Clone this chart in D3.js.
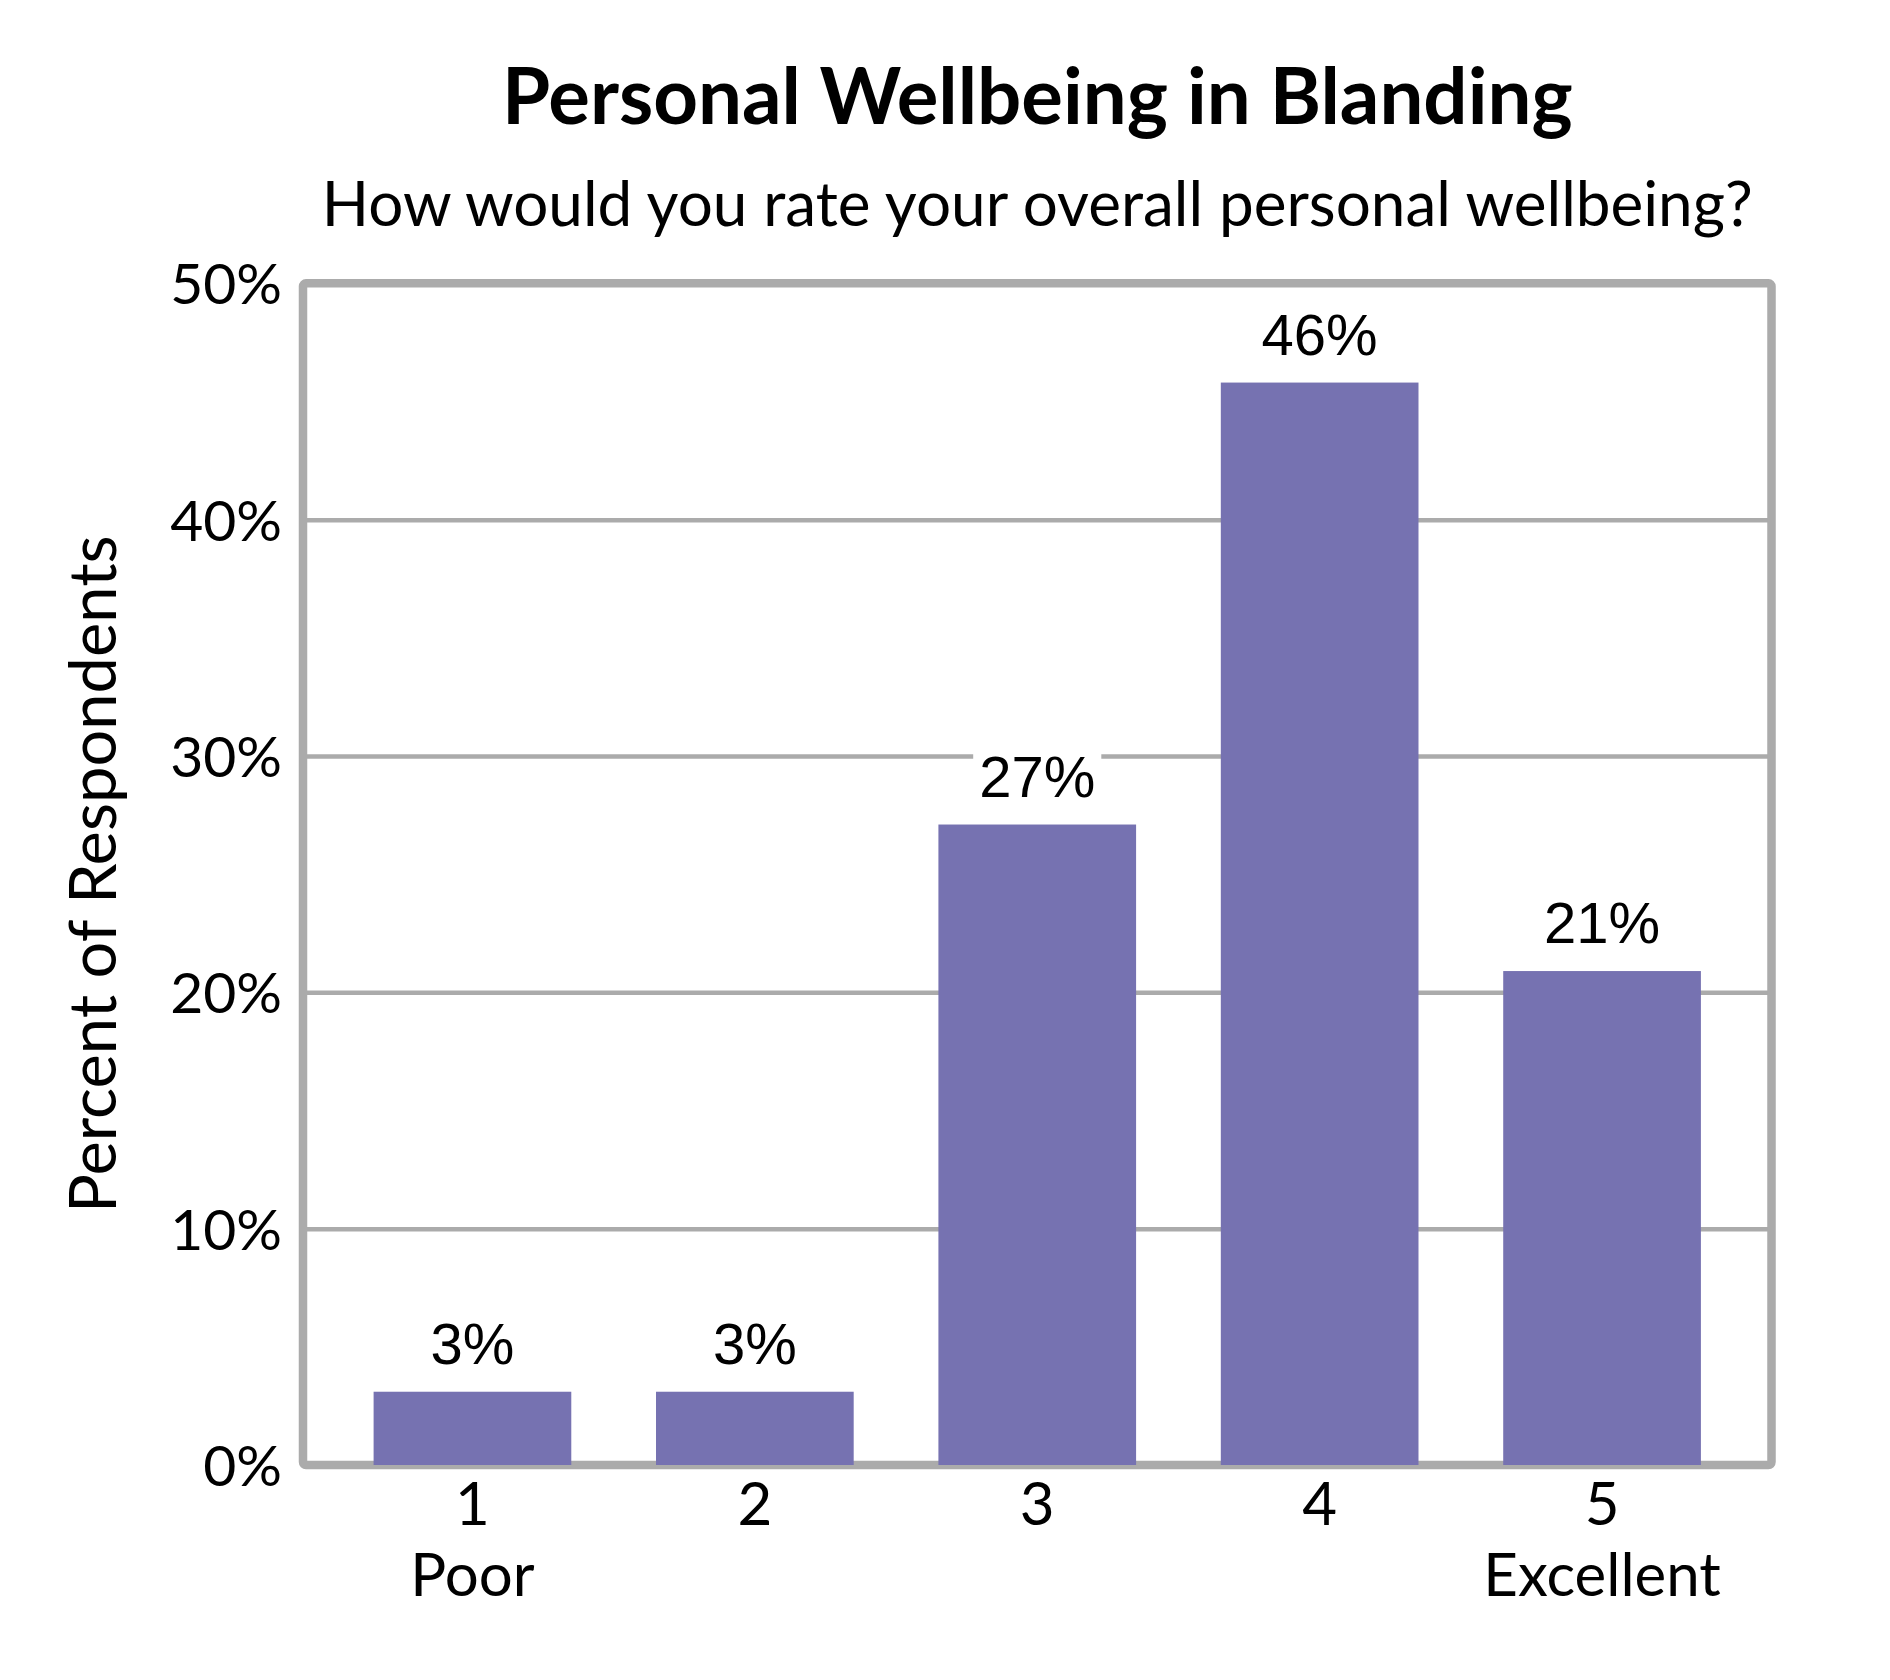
<!DOCTYPE html>
<html>
<head>
<meta charset="utf-8">
<script src="https://cdn.jsdelivr.net/npm/d3@7"></script>
<style>
    body { margin: 0; background: #ffffff; }
    svg { display: block; }
</style>
</head>
<body>
<div id="chart"></div>
<script>
// data
const categories = ["1", "2", "3", "4", "5"];
const subLabels = ["Poor", "", "", "", "Excellent"];
const percents = [3.1, 3.1, 27.1, 45.8, 20.9];
const yTicks = [0, 10, 20, 30, 40, 50];

const titleText = "Personal Wellbeing in Blanding";
const subtitleText = "How would you rate your overall personal wellbeing?";
const yTitleText = "Percent of Respondents";

const dataset = categories.map((c, i) => ({ cat: c, sub: subLabels[i], value: percents[i] }));

const xAccessor = d => d.cat;
const yAccessor = d => d.value;

function drawChart() {
    let dimensions = {
        width: 1890,
        height: 1680,
        margin: {
            left: 303,
            right: 118.5,
            top: 283.3,
            bottom: 215,
        },
    }
    dimensions.boundedWidth = dimensions.width
        - dimensions.margin.left
        - dimensions.margin.right;
    dimensions.boundedHeight = dimensions.height
        - dimensions.margin.top
        - dimensions.margin.bottom;

    const mainFont = "Lato, 'Open Sans', sans-serif";
    const labelFont = "'Liberation Sans', Arial, sans-serif";
    const gridColor = "#ababab";
    const barColor = "#7672b1";

    const wrapper = d3.select("#chart").append("svg")
        .attr("width", dimensions.width)
        .attr("height", dimensions.height);

    wrapper.append("rect")
        .attr("width", dimensions.width)
        .attr("height", dimensions.height)
        .attr("fill", "#ffffff");

    const bounds = wrapper.append("g")
        .attr("transform", `translate(${dimensions.margin.left},${dimensions.margin.top})`);

    const xScaler = d3.scaleBand()
        .domain(categories)
        .range([0, dimensions.boundedWidth])
        .paddingInner(0.3)
        .paddingOuter(0.25);

    const yScaler = d3.scaleLinear()
        .domain([0, 50])
        .range([dimensions.boundedHeight, 0]);

    // gridlines
    const gridGen = d3.axisLeft(yScaler)
        .tickValues(yTicks.filter(t => t > 0 && t < 50))
        .tickSize(-dimensions.boundedWidth)
        .tickFormat("");
    const grid = bounds.append("g").call(gridGen);
    grid.select(".domain").remove();
    grid.selectAll("line")
        .attr("stroke", gridColor)
        .attr("stroke-width", 4.5);

    // frame
    bounds.append("rect")
        .attr("width", dimensions.boundedWidth)
        .attr("height", dimensions.boundedHeight)
        .attr("rx", 3)
        .attr("fill", "none")
        .attr("stroke", gridColor)
        .attr("stroke-width", 8.5);

    // bars
    bounds.append("g")
        .selectAll("rect")
        .data(dataset)
        .join("rect")
        .attr("x", d => xScaler(xAccessor(d)))
        .attr("y", d => yScaler(yAccessor(d)))
        .attr("width", xScaler.bandwidth())
        .attr("height", d => yScaler(0) - yScaler(yAccessor(d)))
        .attr("fill", barColor);

    // data labels with white backing
    const labelFormat = v => d3.format(".0f")(v) + "%";
    const labelGroups = bounds.append("g")
        .selectAll("g")
        .data(dataset)
        .join("g")
        .attr("transform", d => `translate(${xScaler(xAccessor(d)) + xScaler.bandwidth() / 2},${yScaler(yAccessor(d)) - 28})`);

    const labelTexts = labelGroups.append("text")
        .attr("text-anchor", "middle")
        .attr("font-family", labelFont)
        .attr("font-size", 58)
        .attr("fill", "#000000")
        .text(d => labelFormat(yAccessor(d)));

    labelTexts.each(function () {
        const box = this.getBBox();
        d3.select(this.parentNode).insert("rect", "text")
            .attr("x", box.x - 6)
            .attr("y", box.y - 4)
            .attr("width", box.width + 12)
            .attr("height", box.height + 6)
            .attr("fill", "#ffffff");
    });

    // y axis
    const yAxisGen = d3.axisLeft(yScaler)
        .tickValues(yTicks)
        .tickSize(0)
        .tickPadding(21)
        .tickFormat(d => d + "%");
    const yAxis = bounds.append("g").call(yAxisGen);
    yAxis.select(".domain").remove();
    yAxis.selectAll("text")
        .attr("font-family", mainFont)
        .attr("font-size", 57)
        .attr("fill", "#000000")
        .attr("dy", "0.36em");

    // x axis
    const xAxisGen = d3.axisBottom(xScaler)
        .tickSize(0)
        .tickPadding(0);
    const xAxis = bounds.append("g")
        .attr("transform", `translate(0,${dimensions.boundedHeight})`)
        .call(xAxisGen);
    xAxis.select(".domain").remove();
    xAxis.selectAll("text")
        .attr("font-family", mainFont)
        .attr("font-size", 60)
        .attr("fill", "#000000")
        .attr("y", 60)
        .attr("dy", null);
    xAxis.selectAll(".tick")
        .append("text")
        .attr("font-family", mainFont)
        .attr("font-size", 60)
        .attr("fill", "#000000")
        .attr("text-anchor", "middle")
        .attr("y", 131)
        .text((d, i) => subLabels[i]);

    // y axis title
    wrapper.append("text")
        .attr("transform", `translate(116,${dimensions.margin.top + dimensions.boundedHeight / 2}) rotate(-90)`)
        .attr("text-anchor", "middle")
        .attr("font-family", mainFont)
        .attr("font-size", 65)
        .attr("fill", "#000000")
        .text(yTitleText);

    // titles
    const centerX = dimensions.margin.left + dimensions.boundedWidth / 2;
    wrapper.append("text")
        .attr("x", centerX)
        .attr("y", 124)
        .attr("text-anchor", "middle")
        .attr("font-family", mainFont)
        .attr("font-weight", "bold")
        .attr("font-size", 78)
        .attr("fill", "#000000")
        .text(titleText);

    wrapper.append("text")
        .attr("x", centerX)
        .attr("y", 226)
        .attr("text-anchor", "middle")
        .attr("font-family", mainFont)
        .attr("font-size", 62)
        .attr("fill", "#000000")
        .text(subtitleText);
}

drawChart();
</script>
</body>
</html>
